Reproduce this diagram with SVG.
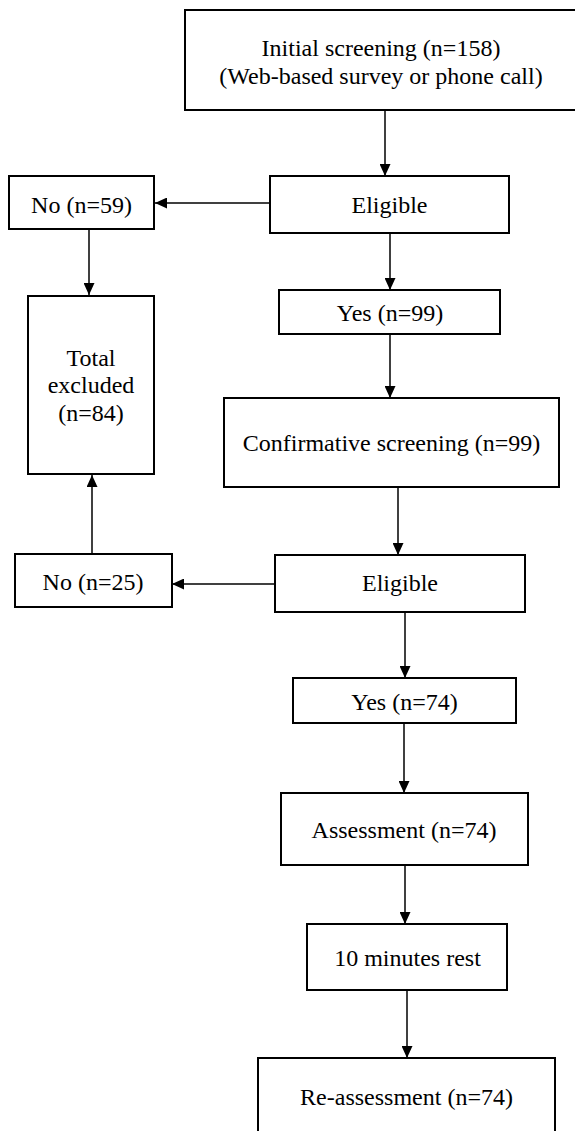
<svg xmlns="http://www.w3.org/2000/svg" width="575" height="1131" viewBox="0 0 575 1131">
<defs>
<style>
.box{fill:#fff;stroke:#000;stroke-width:2}
.t{font-family:"Liberation Serif","Times New Roman",serif;font-size:24px;fill:#000;text-anchor:middle}
.c{stroke:#000;stroke-width:1.5;fill:none;marker-end:url(#ah)}
</style>
<marker id="ah" viewBox="0 0 12 11" refX="12" refY="5.5" markerWidth="12" markerHeight="11" markerUnits="userSpaceOnUse" orient="auto">
<path d="M0,0 L12,5.5 L0,11 Z" fill="#000"/>
</marker>
</defs>
<rect width="575" height="1131" fill="#fff"/>
<g id="connectors">
<line class="c" x1="385" y1="111" x2="385" y2="176"/>
<line class="c" x1="270" y1="203" x2="155" y2="203"/>
<line class="c" x1="89" y1="229" x2="89" y2="295"/>
<line class="c" x1="390" y1="233" x2="390" y2="290"/>
<line class="c" x1="390" y1="334" x2="390" y2="398"/>
<line class="c" x1="398" y1="487" x2="398" y2="555"/>
<line class="c" x1="275" y1="584" x2="172" y2="584"/>
<line class="c" x1="92" y1="554" x2="92" y2="475"/>
<line class="c" x1="405" y1="612" x2="405" y2="678"/>
<line class="c" x1="404" y1="723" x2="404" y2="793"/>
<line class="c" x1="405" y1="865" x2="405" y2="924"/>
<line class="c" x1="407" y1="990" x2="407" y2="1058"/>
</g>
<g id="n-initial">
<rect class="box" x="185" y="10" width="400" height="100"/>
<text class="t" x="381" y="56">Initial screening (n=158)</text>
<text class="t" x="381" y="84">(Web-based survey or phone call)</text>
</g>
<g id="n-eligible1">
<rect class="box" x="270" y="176" width="239" height="57"/>
<text class="t" x="389.5" y="213">Eligible</text>
</g>
<g id="n-no59">
<rect class="box" x="9" y="176" width="145" height="53"/>
<text class="t" x="81.5" y="213">No (n=59)</text>
</g>
<g id="n-total">
<rect class="box" x="28" y="296" width="126" height="178"/>
<text class="t" x="91" y="366">Total</text>
<text class="t" x="91" y="393">excluded</text>
<text class="t" x="91" y="421">(n=84)</text>
</g>
<g id="n-yes99">
<rect class="box" x="279" y="290" width="221" height="44"/>
<text class="t" x="390" y="321">Yes (n=99)</text>
</g>
<g id="n-confirm">
<rect class="box" x="224" y="398" width="335" height="89"/>
<text class="t" x="391.5" y="451">Confirmative screening (n=99)</text>
</g>
<g id="n-eligible2">
<rect class="box" x="275" y="555" width="250" height="57"/>
<text class="t" x="400" y="591">Eligible</text>
</g>
<g id="n-no25">
<rect class="box" x="15" y="554" width="157" height="53"/>
<text class="t" x="93" y="590">No (n=25)</text>
</g>
<g id="n-yes74">
<rect class="box" x="293" y="678" width="223" height="45"/>
<text class="t" x="404.5" y="710">Yes (n=74)</text>
</g>
<g id="n-assess">
<rect class="box" x="281" y="793" width="247" height="72"/>
<text class="t" x="404" y="838">Assessment (n=74)</text>
</g>
<g id="n-rest">
<rect class="box" x="307" y="924" width="200" height="66"/>
<text class="t" x="407.5" y="966">10 minutes rest</text>
</g>
<g id="n-reassess">
<rect class="box" x="258" y="1058" width="297" height="90"/>
<text class="t" x="406.5" y="1105">Re-assessment (n=74)</text>
</g>
</svg>
